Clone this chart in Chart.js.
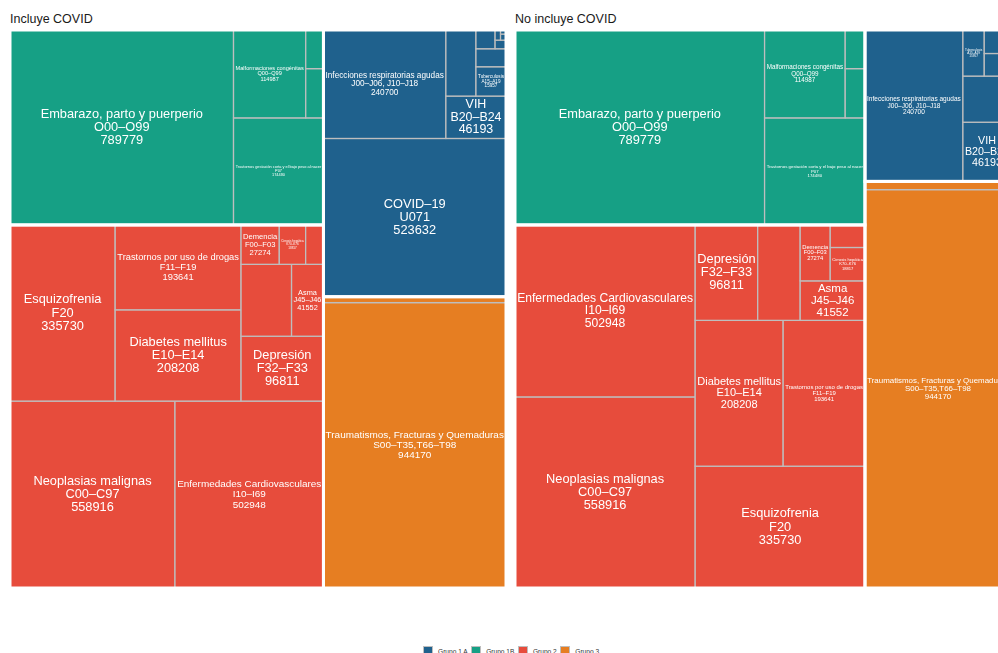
<!DOCTYPE html>
<html>
<head>
<meta charset="utf-8">
<script src="https://cdn.jsdelivr.net/npm/chart.js@4.4.0/dist/chart.umd.min.js"></script>
<style>
    html, body { margin: 0; padding: 0; background: #fff; overflow: hidden; width: 998px; height: 653px; font-family: "Liberation Sans", Arial, sans-serif; }
    .titulo { position: absolute; top: 12px; font-size: 12.5px; color: #1a1a1a; white-space: nowrap; }
    .panel { position: absolute; top: 30px; }
    #leyenda { position: absolute; top: 646px; left: 423px; display: flex; align-items: center; font-size: 6.6px; color: #333; white-space: nowrap; }
    #leyenda span.caja { display: inline-block; width: 10px; height: 11px; border: 1px solid #bebebe; margin-right: 5px; box-sizing: border-box; }
    #leyenda span.item { display: flex; align-items: center; margin-right: 3.5px; }
</style>
</head>
<body>
<div class="titulo" style="left:10px">Incluye COVID</div>
<div class="titulo" style="left:515px">No incluye COVID</div>
<canvas id="panel1" class="panel" width="496" height="558" style="left:10px"></canvas>
<canvas id="panel2" class="panel" width="496" height="558" style="left:515px"></canvas>
<div id="leyenda"></div>

<script>
// datos
const grupos = ['Grupo 1 A', 'Grupo 1B', 'Grupo 2', 'Grupo 3'];
const causas = [
    'COVID–19', 'Infecciones respiratorias agudas', 'VIH', '', 'Tuberculosis', '', '', '', '', '', '',
    'Embarazo, parto y puerperio', 'Trastornos gestación corta y el bajo peso al nacer', 'Malformaciones congénitas', '', '',
    'Neoplasias malignas', 'Enfermedades Cardiovasculares', 'Esquizofrenia', 'Diabetes mellitus', 'Trastornos por uso de drogas',
    'Depresión', '', 'Asma', 'Demencia', 'Cirrosis hepática', '',
    'Traumatismos, Fracturas y Quemaduras', ''
];
const codigos = [
    'U071', 'J00–J06, J10–J18', 'B20–B24', '', 'A15–A19', '', '', '', '', '', '',
    'O00–O99', 'P07', 'Q00–Q99', '', '',
    'C00–C97', 'I10–I69', 'F20', 'E10–E14', 'F11–F19',
    'F32–F33', '', 'J45–J46', 'F00–F03', 'K70–K76', '',
    'S00–T35,T66–T98', ''
];
const egresos = [
    523632, 240700, 46193, 36000, 15957, 9800, 6500, 1700, 1000, 600, 400,
    789779, 174480, 114987, 15800, 12400,
    558916, 502948, 335730, 208208, 193641,
    96811, 65800, 41552, 27274, 18817, 12700,
    944170, 19500
];
const grupoDeCausa = [
    0, 0, 0, 0, 0, 0, 0, 0, 0, 0, 0,
    1, 1, 1, 1, 1,
    2, 2, 2, 2, 2, 2, 2, 2, 2, 2, 2,
    3, 3
];
const paneles = ['Incluye COVID', 'No incluye COVID'];
const codigoCovid = 'U071';

const coloresGrupo = ['#1F618D', '#16A085', '#E74C3C', '#E67E22'];

// squarified, en coordenadas unitarias (y hacia arriba)
function peor(fila, lado) {
    const suma = fila.reduce((a, b) => a + b, 0);
    const grosor = suma / lado;
    return Math.max(...fila.map(a => { const l = a / grosor; return Math.max(grosor / l, l / grosor); }));
}

function squarify(valores, x0, y0, w, h) {
    const total = valores.reduce((a, b) => a + b, 0);
    const areas = valores.map(v => v * w * h / total);
    const rects = [];
    let i = 0;
    while (i < areas.length) {
        const vertical = w >= h;
        const lado = vertical ? h : w;
        const fila = [areas[i]];
        let j = i + 1;
        while (j < areas.length && peor(fila.concat(areas[j]), lado) <= peor(fila, lado)) { fila.push(areas[j]); j++; }
        const grosor = fila.reduce((a, b) => a + b, 0) / lado;
        let off = 0;
        fila.forEach(a => {
            const largo = a / grosor;
            if (vertical) rects.push({ x: x0, y: y0 + off, w: grosor, h: largo });
            else rects.push({ x: x0 + off, y: y0, w: largo, h: grosor });
            off += largo;
        });
        if (vertical) { x0 += grosor; w -= grosor; } else { y0 += grosor; h -= grosor; }
        i = j;
    }
    return rects;
}

function armarPanel(incluyeCovid) {
    const idx = egresos.map((v, i) => i).filter(i => incluyeCovid || codigos[i] !== codigoCovid);
    const porGrupo = grupos.map((g, gi) => idx.filter(i => grupoDeCausa[i] === gi).sort((a, b) => egresos[b] - egresos[a]));
    const totales = porGrupo.map(l => l.reduce((s, i) => s + egresos[i], 0));
    const orden = grupos.map((g, gi) => gi).sort((a, b) => totales[b] - totales[a]);
    const rectGrupos = squarify(orden.map(g => totales[g]), 0, 0, 1, 1);
    const celdas = [], bordes = [];
    orden.forEach((g, k) => {
        const r = rectGrupos[k];
        bordes.push(r);
        const sub = squarify(porGrupo[g].map(i => egresos[i]), r.x, r.y, r.w, r.h);
        porGrupo[g].forEach((i, n) => celdas.push({ ...sub[n], i: i, g: g }));
    });
    return { celdas, bordes };
}

const treemapPlugin = {
    id: 'treemap',
    afterDatasetsDraw(chart, args, opts) {
        const ctx = chart.ctx;
        const xs = chart.scales.x, ys = chart.scales.y;
        const px = r => {
            const l = xs.getPixelForValue(r.x), rr = xs.getPixelForValue(r.x + r.w);
            const t = ys.getPixelForValue(r.y + r.h), b = ys.getPixelForValue(r.y);
            return { l, t, w: rr - l, h: b - t };
        };
        ctx.save();
        opts.celdas.forEach(c => {
            const p = px(c);
            ctx.fillStyle = coloresGrupo[c.g];
            ctx.fillRect(p.l, p.t, p.w, p.h);
            ctx.strokeStyle = '#BEBEBE';
            ctx.lineWidth = 1.3;
            ctx.strokeRect(p.l, p.t, p.w, p.h);
        });
        // etiquetas
        ctx.fillStyle = '#ffffff';
        ctx.textAlign = 'center';
        ctx.textBaseline = 'middle';
        opts.celdas.forEach(c => {
            if (!causas[c.i]) return;
            const p = px(c);
            const lineas = [causas[c.i], codigos[c.i], String(egresos[c.i])];
            ctx.font = '10px "Liberation Sans", Arial, sans-serif';
            const ancho = Math.max(...lineas.map(s => ctx.measureText(s).width)) / 10;
            const lh = 1.03;
            let size = Math.min(12.8, (p.w - 4) / ancho, (p.h - 4) / (lineas.length * lh));
            if (size < 3) return;
            ctx.font = size + 'px "Liberation Sans", Arial, sans-serif';
            const cx = p.l + p.w / 2, cy = p.t + p.h / 2;
            lineas.forEach((s, k) => ctx.fillText(s, cx, cy + (k - 1) * size * lh));
        });
        ctx.strokeStyle = '#ffffff';
        ctx.lineWidth = 3;
        opts.bordes.forEach(r => {
            const p = px(r);
            ctx.strokeRect(p.l, p.t, p.w, p.h);
        });
        ctx.restore();
    }
};

function crearPanel(id, incluyeCovid) {
    const layout = armarPanel(incluyeCovid);
    return new Chart(document.getElementById(id), {
        type: 'scatter',
        data: { datasets: [{ data: [] }] },
        options: {
            responsive: false,
            animation: false,
            events: [],
            layout: { padding: 0 },
            plugins: { legend: { display: false }, tooltip: { enabled: false }, treemap: layout },
            scales: {
                x: { type: 'linear', min: 0, max: 1, display: false },
                y: { type: 'linear', min: 0, max: 1, display: false }
            }
        },
        plugins: [treemapPlugin]
    });
}

crearPanel('panel1', true);
crearPanel('panel2', false);

document.getElementById('leyenda').innerHTML = grupos.map((g, i) =>
    `<span class="item"><span class="caja" style="background:${coloresGrupo[i]}"></span>${g}</span>`).join('');
</script>
</body>
</html>
